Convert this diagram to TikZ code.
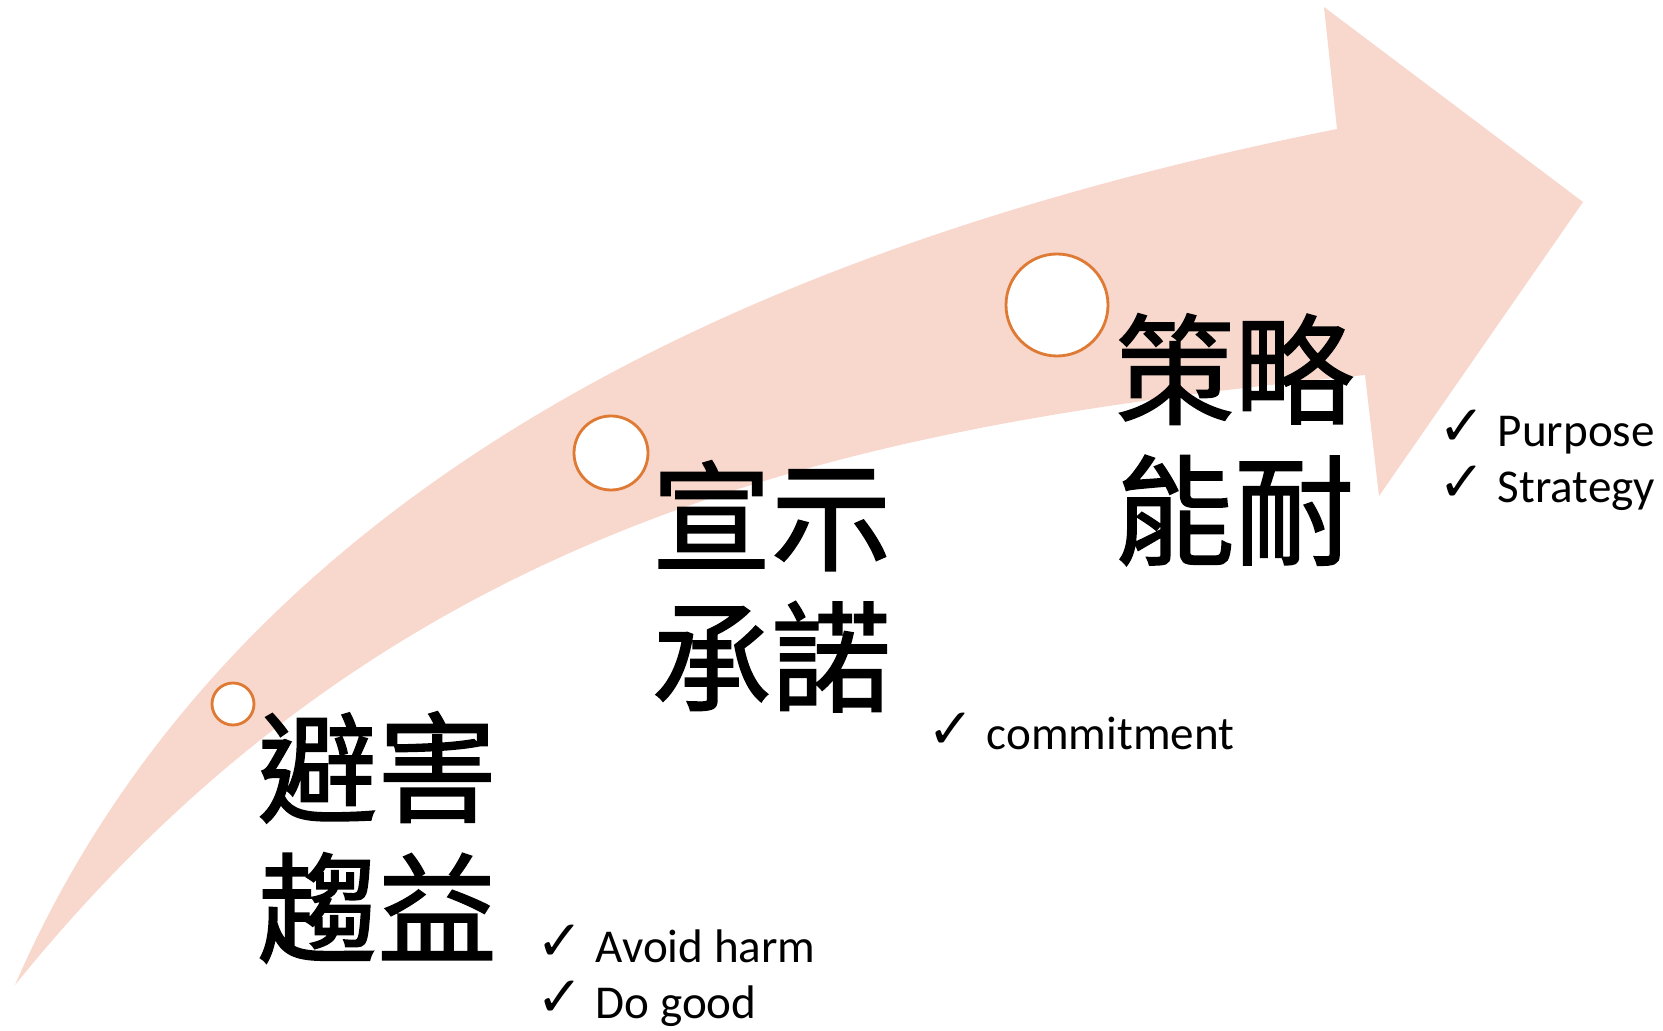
\documentclass[tikz,border=0pt]{standalone}
\usepackage{fontspec}
\usepackage{tikz}
\usepackage{xcolor}
\setmainfont{Carlito}
\newfontfamily\cjkfont{Noto Sans CJK TC}[FakeBold=1.4]
\newfontfamily\tickfont{DejaVu Sans}

\definecolor{peach}{RGB}{248,215,205}
\definecolor{ringorange}{RGB}{222,122,52}

\newcommand{\tick}{\makebox[0.59cm][l]{\raisebox{0.5pt}{\tickfont\fontsize{16pt}{16pt}\selectfont ✓}}}

\begin{document}
\begin{tikzpicture}[x=0.01cm,y=-0.01cm,
    ring/.style={draw=ringorange,line width=0.8pt,fill=white},
    bigword/.style={anchor=north west,inner sep=0pt,align=left,
      font=\cjkfont\fontsize{34pt}{40pt}\selectfont},
    item/.style={anchor=base west,inner sep=0pt,
      font=\fontsize{13.4pt}{16pt}\selectfont}]
    \useasboundingbox (0,0) rectangle (1663,1031);

    % the big curved arrow
    \fill[peach] (15,985) .. controls (250,444.5) and (837,229) .. (1337,129)
        -- (1324,7) -- (1583,202) -- (1379,496) -- (1365,375)
        .. controls (860,425) and (395,515) .. (15,985) -- cycle;

    \draw[ring] (233,704) circle (21);
    \draw[ring] (611,453) circle (37);
    \draw[ring] (1057,305) circle (51);

    \node[bigword] (avoid) at (257,711) {避害\\趨益};
    \node[bigword] (declare) at (651,460) {宣示\\承諾};
    \node[bigword] (strategy) at (1114,313) {策略\\能耐};

    \node[item] (harm) at (536,962) {\tick Avoid harm};
    \node[item] (good) at (536,1018) {\tick Do good};
    \node[item] (commit) at (927,750) {\tick commitment};
    \node[item] (purpose) at (1438,447) {\tick Purpose};
    \node[item] (plan) at (1438,503) {\tick Strategy};
\end{tikzpicture}
\end{document}
